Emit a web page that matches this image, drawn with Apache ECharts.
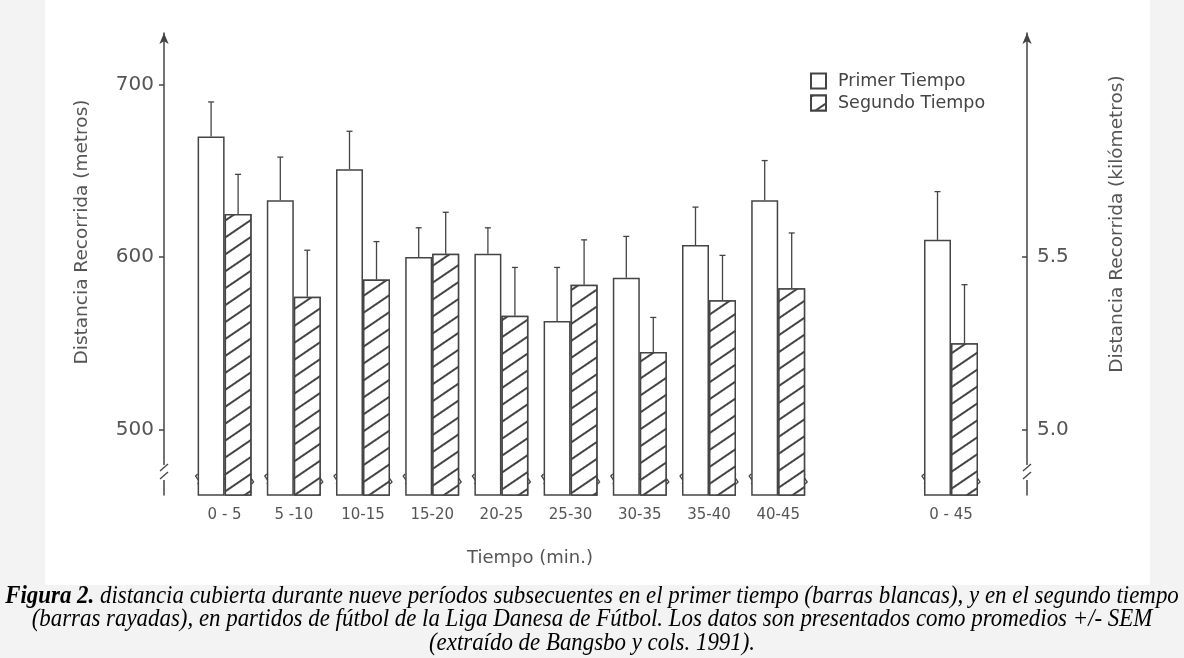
<!DOCTYPE html>
<html>
<head>
<meta charset="utf-8">
<title>Distancia recorrida por periodos</title>
<script src="https://cdn.jsdelivr.net/npm/echarts@6/dist/echarts.min.js"></script>
<style>
  html, body { margin: 0; padding: 0; background: #f3f3f3; }
  #chart { width: 1184px; height: 658px; }
</style>
</head>
<body>
<div id="chart"></div>
<script>
// Periods of five minutes within each half
const categories = ['0 - 5', '5 -10', '10-15', '15-20', '20-25', '25-30', '30-35', '35-40', '40-45'];
// Metres covered per period (mean) and SEM
const primerTiempo = [670, 633, 651, 600, 602, 563, 588, 607, 633];
const primerSem = [20, 25, 22, 17, 15, 31, 24, 22, 23];
const segundoTiempo = [625, 577, 587, 602, 566, 584, 545, 575, 582];
const segundoSem = [23, 27, 22, 24, 28, 26, 20, 26, 32];
// Whole half (kilometres)
const totalCategory = ['0 - 45'];
const primerTotal = [5.55];
const primerTotalSem = [0.14];
const segundoTotal = [5.25];
const segundoTotalSem = [0.17];
// Tick labels
const metrosTicks = [500, 600, 700];
const kmTicks = [5.0, 5.5];

const seriesNames = ['Primer Tiempo', 'Segundo Tiempo'];

// Axis ranges: 100 m on the left equals 0.5 km on the right
const M_MIN = 462, M_MAX = 730;
const toKm = m => 5.5 + (m - 600) / 200;

const INK = '#444';
const TEXT = '#555';
const SANS = '"DejaVu Sans", Arial, sans-serif';
const SERIF = '"Liberation Serif", "Times New Roman", serif';
const BAR_W = 27;
const SLOT = 69.2;
const G1_LEFT = 190, G_TOP = 33, G_BOTTOM = 163;
const G2_CENTER = 951;

const hatch = {
  symbol: 'rect',
  symbolSize: 1,
  dashArrayX: [1, 0],
  dashArrayY: [1.8, 12],
  rotation: -Math.PI * 0.19,
  color: INK,
  backgroundColor: '#fff'
};
const plainStyle = { color: '#fff', borderColor: INK, borderWidth: 1.5 };
const hatchStyle = { color: '#fff', borderColor: INK, borderWidth: 1.5, decal: hatch };

// Error bars, break marks and axis break drawn per category pair
function pairRenderer(axisOffset, axisSide) {
  return function (params, api) {
    const i = api.value(0);
    const cs = params.coordSys;
    const bottom = cs.y + cs.height;
    const cx = api.coord([i, api.value(1)])[0];
    const children = [];
    const lineStyle = { stroke: INK, lineWidth: 1.3, fill: null };
    const pairs = [
      [cx - BAR_W / 2, api.value(1), api.value(2)],
      [cx + BAR_W / 2, api.value(3), api.value(4)]
    ];
    pairs.forEach(([x, v, s]) => {
      const y0 = api.coord([i, v])[1];
      const y1 = api.coord([i, v + s])[1];
      children.push({ type: 'line', shape: { x1: x, y1: y0, x2: x, y2: y1 }, style: lineStyle });
      children.push({ type: 'line', shape: { x1: x - 3, y1: y1, x2: x + 3, y2: y1 }, style: lineStyle });
    });
    // Break marks on the bar edges
    const yb = bottom - 16;
    [cx - BAR_W, cx, cx + BAR_W].forEach(ex => {
      children.push({ type: 'rect', shape: { x: ex - 2, y: yb - 5, width: 4, height: 10 }, style: { fill: '#fff' } });
      children.push({ type: 'polyline', shape: { points: [[ex, yb - 5], [ex - 2, yb - 3], [ex + 2, yb + 3], [ex, yb + 5]] }, style: lineStyle });
    });
    // Break on the value axis
    if (params.dataIndex === 0) {
      const ax = axisSide === 'left' ? cs.x - axisOffset : cs.x + cs.width + axisOffset;
      const ya = bottom - 22;
      children.push({ type: 'rect', shape: { x: ax - 3, y: ya - 8, width: 6, height: 15 }, style: { fill: '#fff' } });
      children.push({ type: 'line', shape: { x1: ax - 4, y1: ya - 2, x2: ax + 4, y2: ya - 9 }, style: lineStyle });
      children.push({ type: 'line', shape: { x1: ax - 4, y1: ya + 6, x2: ax + 4, y2: ya - 1 }, style: lineStyle });
    }
    return { type: 'group', children };
  };
}

const LEFT_OFFSET = G1_LEFT - 164;
const G2_LEFT = G2_CENTER - SLOT / 2;
const RIGHT_OFFSET = 1027 - (G2_LEFT + SLOT);

const valueAxisCommon = {
  type: 'value',
  splitLine: { show: false },
  axisLine: { show: true, symbol: ['none', 'arrow'], symbolSize: [7, 11], lineStyle: { color: INK, width: 1.5 } },
  axisTick: { show: true, length: 5, lineStyle: { color: INK, width: 1.5 } },
  axisLabel: { color: TEXT, fontSize: 20, fontFamily: SANS, margin: 10 }
};

const option = {
  backgroundColor: '#f3f3f3',
  animation: false,
  legend: {
    data: seriesNames,
    orient: 'vertical',
    left: 805,
    top: 67,
    itemWidth: 15,
    itemHeight: 15,
    itemGap: 4,
    icon: 'rect',
    textStyle: { color: INK, fontSize: 17.5, fontFamily: SANS, padding: [0, 0, 0, 7] },
    selectedMode: false
  },
  grid: [
    { left: G1_LEFT, width: SLOT * categories.length, top: G_TOP, bottom: G_BOTTOM },
    { left: G2_LEFT, width: SLOT, top: G_TOP, bottom: G_BOTTOM }
  ],
  xAxis: [
    {
      type: 'category', gridIndex: 0, data: categories,
      axisLine: { show: false }, axisTick: { show: false },
      axisLabel: { color: TEXT, fontSize: 15, fontFamily: SANS, margin: 13, interval: 0 }
    },
    {
      type: 'category', gridIndex: 1, data: totalCategory,
      axisLine: { show: false }, axisTick: { show: false },
      axisLabel: { color: TEXT, fontSize: 15, fontFamily: SANS, margin: 13 }
    }
  ],
  yAxis: [
    Object.assign({}, valueAxisCommon, {
      gridIndex: 0, position: 'left', offset: LEFT_OFFSET,
      min: M_MIN, max: M_MAX,
      axisTick: Object.assign({}, valueAxisCommon.axisTick, { customValues: metrosTicks }),
      axisLabel: Object.assign({}, valueAxisCommon.axisLabel, { customValues: metrosTicks })
    }),
    Object.assign({}, valueAxisCommon, {
      gridIndex: 1, position: 'right', offset: RIGHT_OFFSET,
      min: toKm(M_MIN), max: toKm(M_MAX),
      axisTick: Object.assign({}, valueAxisCommon.axisTick, { customValues: kmTicks, inside: true }),
      axisLabel: Object.assign({}, valueAxisCommon.axisLabel, { customValues: kmTicks, formatter: v => v.toFixed(1) })
    })
  ],
  series: [
    { name: seriesNames[0], type: 'bar', xAxisIndex: 0, yAxisIndex: 0, data: primerTiempo, barWidth: BAR_W, barGap: '0%', itemStyle: plainStyle, clip: true },
    { name: seriesNames[1], type: 'bar', xAxisIndex: 0, yAxisIndex: 0, data: segundoTiempo, barWidth: BAR_W, barGap: '0%', itemStyle: hatchStyle, clip: true },
    { name: seriesNames[0], type: 'bar', xAxisIndex: 1, yAxisIndex: 1, data: primerTotal, barWidth: BAR_W, barGap: '0%', itemStyle: plainStyle, clip: true },
    { name: seriesNames[1], type: 'bar', xAxisIndex: 1, yAxisIndex: 1, data: segundoTotal, barWidth: BAR_W, barGap: '0%', itemStyle: hatchStyle, clip: true },
    {
      type: 'custom', xAxisIndex: 0, yAxisIndex: 0, silent: true,
      renderItem: pairRenderer(LEFT_OFFSET, 'left'),
      encode: { x: 0, y: [1, 3] },
      data: categories.map((c, i) => [i, primerTiempo[i], primerSem[i], segundoTiempo[i], segundoSem[i]])
    },
    {
      type: 'custom', xAxisIndex: 1, yAxisIndex: 1, silent: true,
      renderItem: pairRenderer(RIGHT_OFFSET, 'right'),
      encode: { x: 0, y: [1, 3] },
      data: totalCategory.map((c, i) => [i, primerTotal[i], primerTotalSem[i], segundoTotal[i], segundoTotalSem[i]])
    }
  ],
  graphic: [
    { type: 'rect', z: -10, silent: true, shape: { x: 45, y: 0, width: 1105, height: 585 }, style: { fill: '#fff' } },
    {
      type: 'text', x: 82, y: 232, rotation: Math.PI / 2, silent: true,
      style: { text: 'Distancia Recorrida (metros)', fill: TEXT, fontSize: 18.5, fontFamily: SANS, align: 'center', verticalAlign: 'middle' }
    },
    {
      type: 'text', x: 1117, y: 224, rotation: Math.PI / 2, silent: true,
      style: { text: 'Distancia Recorrida (kilómetros)', fill: TEXT, fontSize: 18.5, fontFamily: SANS, align: 'center', verticalAlign: 'middle' }
    },
    {
      type: 'text', x: 530, y: 558, silent: true,
      style: { text: 'Tiempo (min.)', fill: TEXT, fontSize: 18, fontFamily: SANS, align: 'center', verticalAlign: 'middle' }
    },
    {
      type: 'text', x: 592, y: 596, scaleX: 1.09, scaleY: 1.2, silent: true,
      style: {
        text: '{b|Figura 2.} distancia cubierta durante nueve períodos subsecuentes en el primer tiempo (barras blancas), y en el segundo tiempo',
        fill: '#000', fontSize: 21, fontStyle: 'italic', fontFamily: SERIF, align: 'center', verticalAlign: 'middle',
        rich: { b: { fontWeight: 'bold', fontStyle: 'italic', fontSize: 21, fontFamily: SERIF, fill: '#000' } }
      }
    },
    {
      type: 'text', x: 592, y: 619, scaleX: 1.09, scaleY: 1.2, silent: true,
      style: {
        text: '(barras rayadas), en partidos de fútbol de la Liga Danesa de Fútbol. Los datos son presentados como promedios +/- SEM',
        fill: '#000', fontSize: 21, fontStyle: 'italic', fontFamily: SERIF, align: 'center', verticalAlign: 'middle'
      }
    },
    {
      type: 'text', x: 592, y: 643, scaleX: 1.09, scaleY: 1.2, silent: true,
      style: {
        text: '(extraído de Bangsbo y cols. 1991).',
        fill: '#000', fontSize: 21, fontStyle: 'italic', fontFamily: SERIF, align: 'center', verticalAlign: 'middle'
      }
    }
  ]
};

const chart = echarts.init(document.getElementById('chart'), null, { renderer: 'canvas' });
chart.setOption(option);
</script>
</body>
</html>
